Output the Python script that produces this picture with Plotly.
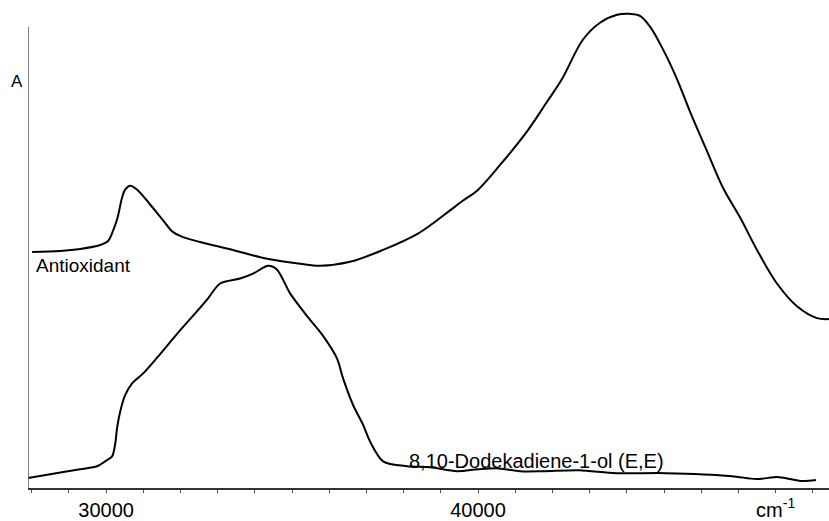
import plotly.graph_objects as go

# Antioxidant spectrum (wavenumber cm-1, absorbance arbitrary units)
anti_x = [28010, 28764, 29301, 29839, 30054, 30161, 30296, 30430, 30511, 30645,
          30833, 31183, 31532, 31801, 32070, 32527, 33414, 34328, 35215, 35752,
          36559, 37446, 38360, 38790, 39247, 39597, 39973, 40591, 41317, 41854, 42257, 42822,
          43279, 43736, 44085, 44354, 44623, 44972, 45348, 45698, 46155, 46585,
          47042, 47499, 48036, 48574, 49112, 49434]
anti_y = [2.39, 2.40, 2.42, 2.46, 2.50, 2.58, 2.72, 2.94, 3.02, 3.06,
          3.02, 2.87, 2.71, 2.59, 2.54, 2.49, 2.41, 2.32, 2.27, 2.25,
          2.29, 2.41, 2.57, 2.68, 2.81, 2.91, 3.01, 3.27, 3.61, 3.91, 4.14, 4.54,
          4.71, 4.79, 4.80, 4.78, 4.67, 4.44, 4.14, 3.81, 3.41, 3.04,
          2.74, 2.41, 2.07, 1.84, 1.72, 1.71]

# 8,10-Dodekadiene-1-ol (E,E) spectrum
dod_x = [27903, 28495, 29301, 29758, 29973, 30161, 30242, 30296, 30376, 30511,
         30699, 30995, 31371, 31908, 32446, 32742, 33064, 33602, 33951, 34355,
         34596, 34946, 35403, 35833, 36209, 36371, 36640, 36908, 37097, 37446,
         38091, 38709, 39435, 40000, 40510, 41128, 41747, 42714, 43709, 45053,
         46827, 47472, 48090, 48708, 49085]
dod_y = [0.10, 0.14, 0.19, 0.22, 0.27, 0.32, 0.44, 0.61, 0.77, 0.94,
         1.06, 1.16, 1.32, 1.56, 1.79, 1.92, 2.07, 2.12, 2.17, 2.25,
         2.21, 1.97, 1.74, 1.54, 1.31, 1.11, 0.84, 0.64, 0.47, 0.27,
         0.22, 0.21, 0.17, 0.19, 0.20, 0.17, 0.17, 0.18, 0.15, 0.15,
         0.12, 0.09, 0.11, 0.07, 0.08]

tick_vals = [30000, 40000, 48000]
tick_text = ["30000", "40000", "cm<sup>-1</sup>"]

x_range = [27900, 49435]
y_range = [0, 4.94]
y_axis_top = 4.67

FONT = "Liberation Sans"

fig = go.Figure()
fig.add_trace(go.Scatter(x=anti_x, y=anti_y, mode="lines",
                         line=dict(color="black", width=2, shape="spline", smoothing=1.0),
                         name="Antioxidant", showlegend=False, hoverinfo="skip"))
fig.add_trace(go.Scatter(x=dod_x, y=dod_y, mode="lines",
                         line=dict(color="black", width=2, shape="spline", smoothing=0.8),
                         name="8,10-Dodekadiene-1-ol (E,E)", showlegend=False, hoverinfo="skip"))

# vertical axis line (stops below the top of the plot)
fig.add_shape(type="line", xref="x", yref="y", x0=x_range[0], x1=x_range[0], y0=0, y1=y_axis_top,
              line=dict(color="#555555", width=1.5))

fig.add_annotation(text="Antioxidant", xref="x", yref="y", x=28060, y=2.25, xanchor="left", yanchor="middle",
                   showarrow=False, font=dict(family=FONT, size=19, color="black"))
fig.add_annotation(text="8,10-Dodekadiene-1-ol (E,E)", xref="x", yref="y", x=38091, y=0.27,
                   xanchor="left", yanchor="middle", showarrow=False,
                   font=dict(family=FONT, size=20, color="black"))
fig.add_annotation(text="A", xref="paper", yref="y", x=-0.004, y=4.12, xanchor="right", yanchor="middle",
                   showarrow=False, font=dict(family=FONT, size=17, color="black"))

fig.update_layout(
    width=829, height=521,
    margin=dict(l=28, r=0, t=0, b=27),
    paper_bgcolor="white", plot_bgcolor="white",
    font=dict(family=FONT, size=20, color="black"),
    xaxis=dict(range=x_range, tickmode="array", tickvals=tick_vals, ticktext=tick_text,
               showgrid=False, zeroline=False, showline=True, linecolor="#333333", linewidth=1.5,
               ticks="outside", ticklen=3, tickcolor="#555555", tickwidth=1,
               tickfont=dict(family=FONT, size=20, color="black"),
               minor=dict(dtick=1000, tick0=30000, ticks="outside", ticklen=3, tickcolor="#555555", tickwidth=1)),
    yaxis=dict(range=y_range, showgrid=False, zeroline=False, showline=False, showticklabels=False, ticks=""),
)

fig.write_html("out.html")
